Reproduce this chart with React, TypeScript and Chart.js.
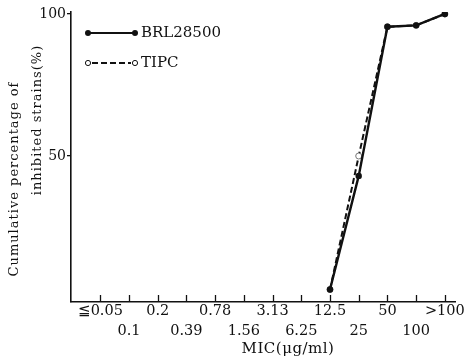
import React, { useEffect, useRef } from 'react';
import { Chart, registerables } from 'chart.js';

Chart.register(...registerables);

const micLabels = ['≦0.05', '0.1', '0.2', '0.39', '0.78', '1.56', '3.13', '6.25', '12.5', '25', '50', '100', '>100'];
const brlValues: (number | null)[] = [null, null, null, null, null, null, null, null, 3, 43, 95.5, 96, 100];
const tipcValues: (number | null)[] = [null, null, null, null, null, null, null, null, 3, 50, 95.5, 96, 100];
const yTickValues = [50, 100];
const seriesNames = ['BRL28500', 'TIPC'];
const yTitleLines = ['Cumulative percentage of', 'inhibited strains(%)'];
const xTitle = 'MIC(μg/ml)';

const FONT = "'DejaVu Serif', 'Liberation Serif', serif";
const INK = '#111';

const toPoints = (vals: (number | null)[]) =>
  vals.map((v, i) => (v === null ? null : { x: i, y: v })).filter((p) => p !== null) as { x: number; y: number }[];

const decor = {
  id: 'decor',
  afterDraw(chart: any) {
    const ctx: CanvasRenderingContext2D = chart.ctx;
    const xs = chart.scales.x;
    const area = chart.chartArea;
    ctx.save();
    // inward x tick marks
    ctx.strokeStyle = INK;
    ctx.lineWidth = 1.3;
    micLabels.forEach((_, i) => {
      const px = Math.round(xs.getPixelForValue(i)) + 0.5;
      ctx.beginPath();
      ctx.moveTo(px, area.bottom);
      ctx.lineTo(px, area.bottom - 7);
      ctx.stroke();
    });

    // legend
    const lx0 = area.left + 17;
    const lx1 = area.left + 64;
    const ly = [area.top + 21, area.top + 51];
    ctx.fillStyle = INK;
    ctx.strokeStyle = INK;
    // BRL
    ctx.lineWidth = 2.2;
    ctx.setLineDash([]);
    ctx.beginPath();
    ctx.moveTo(lx0, ly[0]);
    ctx.lineTo(lx1, ly[0]);
    ctx.stroke();
    [lx0, lx1].forEach((x) => {
      ctx.beginPath();
      ctx.arc(x, ly[0], 3, 0, Math.PI * 2);
      ctx.fill();
    });
    // TIPC
    ctx.lineWidth = 2;
    ctx.setLineDash([6, 3]);
    ctx.beginPath();
    ctx.moveTo(lx0 + 4, ly[1]);
    ctx.lineTo(lx1 - 4, ly[1]);
    ctx.stroke();
    ctx.setLineDash([]);
    ctx.lineWidth = 1;
    [lx0, lx1].forEach((x) => {
      ctx.beginPath();
      ctx.arc(x, ly[1], 2.6, 0, Math.PI * 2);
      ctx.fillStyle = '#fff';
      ctx.fill();
      ctx.stroke();
    });
    ctx.fillStyle = INK;
    ctx.font = `15px ${FONT}`;
    ctx.textAlign = 'left';
    ctx.textBaseline = 'middle';
    ctx.fillText(seriesNames[0], lx1 + 6, ly[0]);
    ctx.fillText(seriesNames[1], lx1 + 6, ly[1]);

    // y title (two rotated lines)
    (ctx as any).letterSpacing = '1px';
    ctx.font = `13px ${FONT}`;
    ctx.textAlign = 'center';
    const yPos = [
      [15, 179],
      [38, 120],
    ];
    yTitleLines.forEach((t, i) => {
      ctx.save();
      ctx.translate(yPos[i][0], yPos[i][1]);
      ctx.rotate(-Math.PI / 2);
      ctx.fillText(t, 0, 0);
      ctx.restore();
    });
    // x title
    (ctx as any).letterSpacing = '0.5px';
    ctx.font = `15px ${FONT}`;
    ctx.textAlign = 'center';
    ctx.fillText(xTitle, 288, 349);
    ctx.restore();
  },
};

export default function App() {
  const ref = useRef<HTMLCanvasElement>(null);
  useEffect(() => {
    if (!ref.current) return;
    const chart = new Chart(ref.current, {
      type: 'line',
      data: {
        datasets: [
          {
            label: seriesNames[0],
            data: toPoints(brlValues),
            borderColor: INK,
            borderWidth: 2.4,
            pointRadius: 3.2,
            pointBackgroundColor: INK,
            pointBorderColor: INK,
            pointBorderWidth: 0,
            tension: 0,
          },
          {
            label: seriesNames[1],
            data: toPoints(tipcValues),
            borderColor: INK,
            borderWidth: 2,
            borderDash: [6, 3],
            pointRadius: 3,
            pointBackgroundColor: '#fff',
            pointBorderColor: '#777',
            pointBorderWidth: 1,
            tension: 0,
          },
        ],
      },
      options: {
        animation: false,
        responsive: false,
        devicePixelRatio: 1,
        layout: { padding: { top: 12, right: 8, left: 0, bottom: 0 } },
        plugins: { legend: { display: false }, tooltip: { enabled: false }, title: { display: false } },
        scales: {
          x: {
            type: 'linear',
            min: -1.02,
            max: 12.38,
            afterBuildTicks: (s: any) => {
              s.ticks = micLabels.map((_, i) => ({ value: i }));
            },
            afterFit: (s: any) => {
              s.height = 61;
            },
            ticks: {
              autoSkip: false,
              maxRotation: 0,
              minRotation: 0,
              padding: 0,
              color: INK,
              font: { family: FONT, size: 14.5, lineHeight: 1.33 },
              callback: (_v: any, i: number) => (i % 2 ? ['', micLabels[i]] : micLabels[i]),
            },
            grid: { display: false, drawTicks: false, tickLength: 0 },
            border: { display: true, color: INK, width: 1.6 },
          },
          y: {
            type: 'linear',
            min: -1.4,
            max: 100.7,
            afterBuildTicks: (s: any) => {
              s.ticks = yTickValues.map((v) => ({ value: v }));
            },
            afterFit: (s: any) => {
              s.width = 71;
            },
            ticks: {
              padding: 1,
              color: INK,
              font: { family: FONT, size: 14 },
            },
            grid: { drawOnChartArea: false, drawTicks: true, tickLength: 4, color: INK, lineWidth: 1.3 },
            border: { display: true, color: INK, width: 1.6 },
          },
        },
      },
      plugins: [decor],
    });
    return () => chart.destroy();
  }, []);
  return (
    <div style={{ position: 'fixed', left: 0, top: 0, width: 465, height: 363, background: '#fff' }}>
      <canvas ref={ref} width={465} height={363} style={{ width: 465, height: 363, display: 'block' }} />
    </div>
  );
}
